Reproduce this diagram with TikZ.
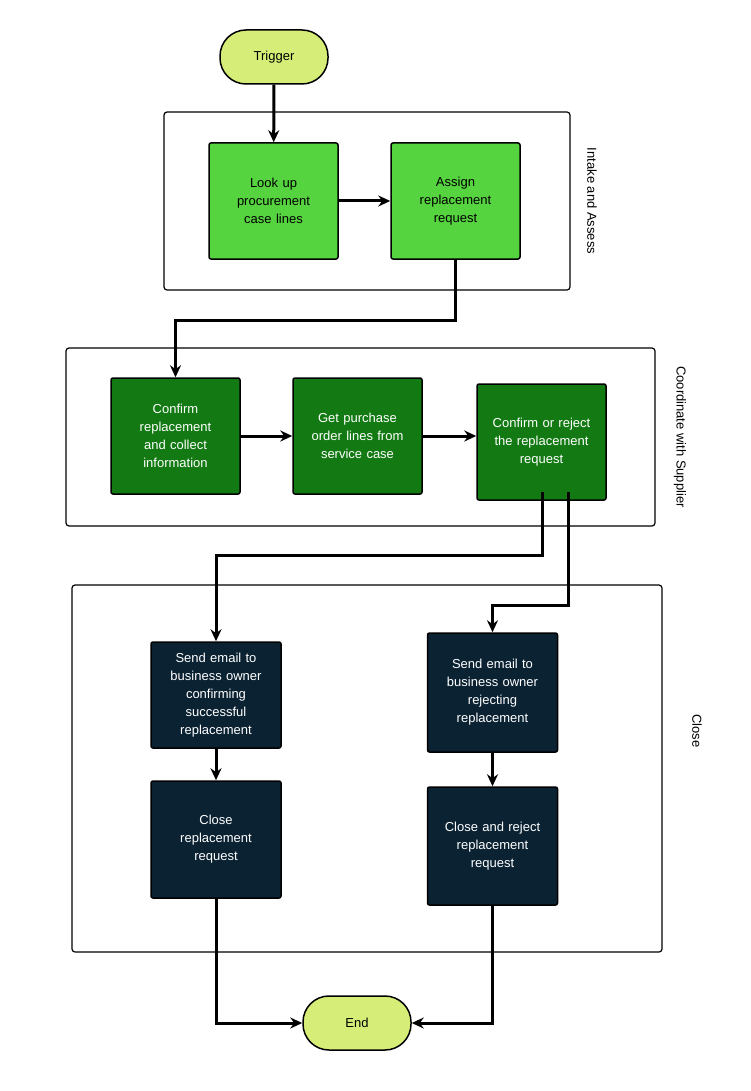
\documentclass[tikz,border=0pt]{standalone}
\usepackage{fontspec}
\setmainfont{Liberation Sans}
\usetikzlibrary{arrows.meta,positioning}
\definecolor{term}{HTML}{D6EE78}
\definecolor{lg}{HTML}{55D43F}
\definecolor{dg}{HTML}{137A13}
\definecolor{nv}{HTML}{0B2233}
\begin{document}
\begin{tikzpicture}[x=1pt,y=-1pt,
  base/.style={draw=black,line width=1.5pt,align=center,font=\fontsize{13}{18}\selectfont,inner sep=3pt},
  term/.style={base,fill=term,rounded corners=26pt,minimum width=108pt,minimum height=54pt},
  l1/.style={base,fill=lg,rounded corners=2pt,minimum width=129pt,minimum height=116pt,text width=110pt},
  l2/.style={base,fill=dg,text=white,rounded corners=2pt,minimum width=129pt,minimum height=116pt,text width=115pt},
  l3/.style={base,fill=nv,text=white,rounded corners=2pt,minimum width=130pt,text width=118pt},
  grp/.style={draw=black,line width=1.2pt,rounded corners=3pt},
  glab/.style={rotate=-90,font=\fontsize{13}{16}\selectfont},
  arr/.style={line width=3pt,-{Stealth[length=12pt,width=11pt]}}]
\useasboundingbox (0,0) rectangle (750,1091);
\draw[grp] (164,112) rectangle (570,290);
\draw[grp] (66,348) rectangle (655,526);
\draw[grp] (72,585) rectangle (662,952);
\node[glab] (g1) at (592,201) {Intake and Assess};
\node[glab] (g2) at (680,437) {Coordinate with Supplier};
\node[glab] (g3) at (697,731) {Close};
\node[term] (trig) at (274,57) {Trigger};
\node[l1] (look) at (273.5,201) {Look up\\procurement\\case lines};
\node[l1] (assign) at (455.5,201) {Assign\\replacement\\request};
\node[l2] (conf) at (175.5,436) {Confirm\\replacement\\and collect\\information};
\node[l2] (get) at (357.5,436) {Get purchase\\order lines from\\service case};
\node[l2,yshift=-8pt] (cor) at (541.5,434) {Confirm or reject\\the replacement\\request\\[16pt]};
\node[l3,minimum height=106pt] (sl) at (216,695) {Send email to\\business owner\\confirming\\successful\\replacement};
\node[l3,minimum height=117pt] (cl) at (216,839.5) {Close\\replacement\\request};
\node[l3,minimum height=119pt] (sr) at (492.5,692.5) {Send email to\\business owner\\rejecting\\replacement};
\node[l3,minimum height=118pt] (cr) at (492.5,846) {Close and reject\\replacement\\request};
\node[term] (end) at (357,1023) {End};
\draw[arr] (trig) -- (look);
\draw[arr] (look) -- (assign);
\draw[arr] (assign.south) -- (455.5,320) -| (conf.north);
\draw[arr] (conf) -- (get);
\draw[arr] (get) -- (get -| cor.west);
\draw[arr] (542,492) -- (542,555) -| (sl.north);
\draw[arr] (568,492) -- (568,605) -| (sr.north);
\draw[arr] (sl) -- (cl);
\draw[arr] (sr) -- (cr);
\draw[arr] (cl.south) |- (end.west);
\draw[arr] (cr.south) |- (end.east);
\end{tikzpicture}
\end{document}
